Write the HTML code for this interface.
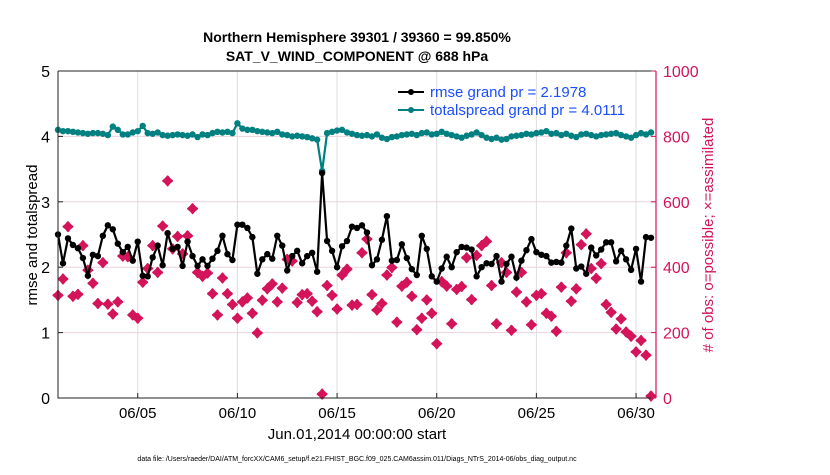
<!DOCTYPE html>
<html><head><meta charset="utf-8"><style>
body{margin:0;background:#fff;}
svg text{font-family:"Liberation Sans",Arial,sans-serif;}
</style></head><body>
<svg id="chart" width="830" height="470" xmlns="http://www.w3.org/2000/svg">
<text x="357" y="42" text-anchor="middle" font-size="14" font-weight="bold">Northern Hemisphere 39301 / 39360 = 99.850%</text>
<text x="357" y="61" text-anchor="middle" font-size="14" font-weight="bold">SAT_V_WIND_COMPONENT @ 688 hPa</text>
<g id="grid"></g>
<g id="marks"></g>
<g id="axes"></g>
<text transform="translate(37,235) rotate(-90)" text-anchor="middle" font-size="15">rmse and totalspread</text>
<text transform="translate(713,235) rotate(-90)" text-anchor="middle" font-size="15" fill="#d4145a"># of obs: o=possible; ×=assimilated</text>
<text x="357" y="439" text-anchor="middle" font-size="15">Jun.01,2014 00:00:00 start</text>
<text x="357" y="461" text-anchor="middle" font-size="7">data file: /Users/raeder/DAI/ATM_forcXX/CAM6_setup/f.e21.FHIST_BGC.f09_025.CAM6assim.011/Diags_NTrS_2014-06/obs_diag_output.nc</text>
<g>
<line x1="398" y1="92" x2="424" y2="92" stroke="#000" stroke-width="2"/><circle cx="411" cy="92" r="3" fill="#000"/>
<text x="430" y="97" font-size="15" fill="#1a4dff">rmse grand pr = 2.1978</text>
<line x1="398" y1="110" x2="424" y2="110" stroke="#008080" stroke-width="2"/><circle cx="411" cy="110" r="3" fill="#008080"/>
<text x="430" y="115" font-size="15" fill="#1a4dff">totalspread grand pr = 4.0111</text>
</g>
</svg>
<script>
const rmse=[2.50,2.06,2.44,2.34,2.29,2.14,1.87,2.19,2.17,2.48,2.64,2.58,2.36,2.23,2.31,2.10,2.39,1.87,1.86,2.15,
2.33,2.03,2.52,2.28,2.31,2.02,2.39,2.17,2.02,2.12,2.02,2.13,2.25,2.48,2.20,2.11,2.65,2.65,2.60,2.46,
1.90,2.12,2.20,2.13,2.48,2.33,1.95,2.17,2.25,2.06,2.17,2.22,1.93,3.44,2.40,2.25,2.00,2.32,2.40,2.62,
2.60,2.64,2.53,2.03,2.12,2.42,2.78,2.10,2.11,2.35,2.14,1.97,1.88,2.48,2.28,1.86,1.78,1.98,2.16,2.00,
2.23,2.31,2.30,2.27,1.86,2.00,2.06,2.05,2.17,1.78,2.05,2.16,1.84,2.10,2.26,2.43,2.23,2.19,2.17,2.07,
2.08,2.07,2.33,2.59,1.98,2.01,1.90,2.30,2.18,2.27,2.38,2.38,2.09,2.25,2.12,1.96,2.28,1.78,2.46,2.45];
const spread=[4.10,4.08,4.08,4.07,4.06,4.05,4.04,4.05,4.05,4.04,4.02,
4.15,4.10,4.03,4.03,4.06,4.08,4.16,4.05,4.04,4.06,
4.02,4.01,4.02,4.03,4.02,4.01,4.03,3.99,4.03,4.02,
4.05,4.07,4.06,4.07,4.05,4.20,4.12,4.10,4.10,4.08,
4.07,4.06,4.05,4.07,4.03,4.02,4.00,4.01,4.00,3.99,3.97,3.95,
3.47,
4.05,4.07,4.09,4.10,4.06,4.04,4.02,
4.01,4.02,4.00,4.03,3.98,3.96,3.99,4.00,4.02,4.03,4.04,4.02,4.05,4.06,4.03,4.04,4.07,4.04,4.02,4.00,
3.98,4.01,4.03,4.06,4.02,3.98,3.96,3.98,3.95,3.96,4.00,4.01,4.02,4.04,4.03,4.05,4.06,4.08,4.04,4.05,
4.02,4.04,4.01,3.99,4.03,4.04,4.02,4.00,4.02,4.03,4.04,4.05,4.02,4.00,3.98,4.02,4.05,4.03,4.06];
const nobs=[314,364,524,311,317,466,391,351,289,414,287,257,294,434,432,254,244,354,396,466,
384,526,664,456,494,441,496,579,384,372,382,319,254,367,319,286,244,294,306,259,
199,299,334,349,294,336,424,419,292,316,319,296,264,12,344,314,272,376,394,284,
286,444,486,316,269,289,376,399,232,342,354,311,209,244,300,259,166,356,342,227,
332,341,429,301,436,466,479,344,227,414,384,207,324,384,294,224,314,319,259,250,
204,339,444,296,334,469,502,396,366,411,286,262,211,242,202,189,141,176,131,6];
const xTicks=[5,10,15,20,25,30];
const xTickLabels=["06/05","06/10","06/15","06/20","06/25","06/30"];
const yTicks=[0,1,2,3,4,5];
const y2Ticks=[0,200,400,600,800,1000];

const L=58,R=656,T=71,B=398,NS="http://www.w3.org/2000/svg";
const xDay=d=>L+(d-1)*(R-L)/30;
const xIdx=i=>xDay(1+i*0.25);
const yL=v=>B-v*(B-T)/5;
const yR=v=>B-v*(B-T)/1000;
function mk(tag,attrs,parent){const e=document.createElementNS(NS,tag);for(const k in attrs)e.setAttribute(k,attrs[k]);parent.appendChild(e);return e;}
const grid=document.getElementById('grid'),marks=document.getElementById('marks'),axes=document.getElementById('axes');
y2Ticks.forEach(v=>{const g=mk('line',{x1:L,x2:R,y1:yR(v),y2:yR(v),stroke:'#ecd3dc','stroke-width':1},grid);

});
xTicks.forEach(d=>{const g=mk('line',{x1:xDay(d),x2:xDay(d),y1:T,y2:B,stroke:'#dcdcdc','stroke-width':1},grid);

});
nobs.forEach((v,i)=>{const x=xIdx(i),y=yR(v);
const p=mk('path',{d:`M${x-4.5},${y}L${x-2},${y-2}L${x},${y-4.5}L${x+2},${y-2}L${x+4.5},${y}L${x+2},${y+2}L${x},${y+4.5}L${x-2},${y+2}Z`,fill:'#d4145a',stroke:'#d4145a','stroke-width':2,'stroke-linejoin':'round'},marks);

});
function series(arr,color,name){
const pl=mk('polyline',{points:arr.map((v,i)=>xIdx(i)+','+yL(v)).join(' '),fill:'none',stroke:color,'stroke-width':2.2},marks);


arr.forEach((v,i)=>{const c=mk('circle',{cx:xIdx(i),cy:yL(v),r:3.2,fill:color},marks);

});}
series(spread,'#008080','totalspread');
series(rmse,'#000000','rmse');
let a=mk('path',{d:`M${L},${T}H${R}M${L},${T}V${B}H${R}`,stroke:'#222',fill:'none','stroke-width':1},axes);


a=mk('line',{x1:R,x2:R,y1:T,y2:B,stroke:'#d4145a','stroke-width':1.2},axes);


yTicks.forEach(v=>{mk('line',{x1:L,x2:L+5,y1:yL(v),y2:yL(v),stroke:'#222'},axes);
const t=mk('text',{x:L-8,y:yL(v)+6,'text-anchor':'end','font-size':16},axes);t.textContent=v;

});
y2Ticks.forEach(v=>{mk('line',{x1:R-5,x2:R,y1:yR(v),y2:yR(v),stroke:'#d4145a'},axes);
const t=mk('text',{x:R+7,y:yR(v)+6,'font-size':16,fill:'#d4145a'},axes);t.textContent=v;

});
xTicks.forEach((d,i)=>{mk('line',{x1:xDay(d),x2:xDay(d),y1:B,y2:B-5,stroke:'#222'},axes);
const t=mk('text',{x:xDay(d),y:B+20,'text-anchor':'middle','font-size':15},axes);t.textContent=xTickLabels[i];

});
</script>
</body></html>
